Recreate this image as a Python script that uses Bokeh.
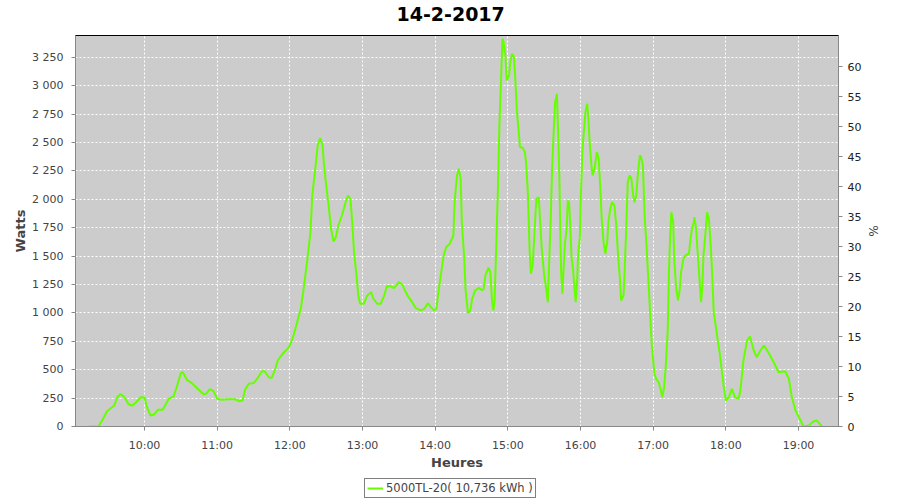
import pandas as pd
from bokeh.plotting import figure
from bokeh.layouts import column
from bokeh.models import (LinearAxis, Range1d, DatetimeTickFormatter, FixedTicker,
                          CustomJSTickFormatter, Legend, LegendItem)
from bokeh.embed import file_html
from bokeh.resources import INLINE

title_text = "14-2-2017"
day = "2017-02-14"
series_label = "5000TL-20( 10,736 kWh )"

times = [
    "09:14:00", "09:22:00", "09:25:00", "09:29:00", "09:35:00", "09:37:30", "09:40:00", "09:43:00",
    "09:47:00", "09:50:00", "09:53:00", "09:57:00", "10:00:00", "10:02:00", "10:05:00", "10:08:00",
    "10:11:00", "10:15:00", "10:17:00", "10:20:00", "10:24:00", "10:27:00", "10:30:00", "10:31:30",
    "10:35:00", "10:39:00", "10:43:00", "10:49:00", "10:51:00", "10:54:00", "10:57:00", "11:00:00",
    "11:04:00", "11:08:00", "11:15:00", "11:18:00", "11:21:00", "11:23:00", "11:26:00", "11:30:00",
    "11:33:00", "11:37:00", "11:39:00", "11:43:00", "11:45:00", "11:48:00", "11:50:00", "11:54:00",
    "11:58:00", "12:00:00", "12:03:00", "12:06:00", "12:09:00", "12:11:00", "12:13:00", "12:14:30",
    "12:17:00", "12:18:30", "12:21:00", "12:23:00", "12:25:00", "12:27:00", "12:28:00", "12:30:00",
    "12:32:00", "12:34:00", "12:36:00", "12:38:00", "12:40:00", "12:43:00", "12:46:00", "12:48:00",
    "12:50:00", "12:51:30", "12:53:00", "12:55:00", "12:56:30", "12:58:00", "13:01:00", "13:04:00",
    "13:07:00", "13:09:00", "13:12:00", "13:15:00", "13:18:00", "13:20:00", "13:23:00", "13:26:00",
    "13:30:00", "13:33:00", "13:35:00", "13:38:00", "13:41:00", "13:44:00", "13:48:00", "13:51:00",
    "13:54:00", "13:56:00", "13:59:00", "14:01:00", "14:03:00", "14:05:00", "14:07:00", "14:09:00",
    "14:12:00", "14:15:00", "14:16:00", "14:18:00", "14:19:30", "14:21:00", "14:22:00", "14:24:00",
    "14:25:00", "14:27:00", "14:29:00", "14:30:30", "14:33:00", "14:36:00", "14:39:00", "14:40:00",
    "14:41:30", "14:44:00", "14:45:30", "14:47:00", "14:48:00", "14:49:00", "14:50:30", "14:52:00",
    "14:53:00", "14:54:30", "14:55:30", "14:56:30", "14:58:00", "14:59:00", "15:01:00", "15:02:00",
    "15:03:30", "15:05:00", "15:06:00", "15:07:30", "15:09:00", "15:10:00", "15:12:30", "15:14:00",
    "15:15:00", "15:16:30", "15:18:00", "15:19:00", "15:20:30", "15:22:00", "15:23:30", "15:25:30",
    "15:27:00", "15:28:00", "15:30:00", "15:32:00", "15:33:00", "15:34:00", "15:35:30", "15:36:30",
    "15:38:00", "15:39:00", "15:40:30", "15:41:30", "15:42:30", "15:43:30", "15:44:00", "15:45:00",
    "15:46:00", "15:47:00", "15:48:30", "15:49:30", "15:50:30", "15:51:30", "15:52:30", "15:54:00",
    "15:55:00", "15:56:00", "15:57:00", "15:58:00", "15:59:30", "16:00:00", "16:01:30", "16:02:30",
    "16:04:00", "16:05:30", "16:06:30", "16:07:30", "16:09:00", "16:10:00", "16:11:30", "16:13:30",
    "16:15:00", "16:16:30", "16:17:30", "16:19:00", "16:20:30", "16:22:00", "16:23:00", "16:24:30",
    "16:26:00", "16:28:00", "16:29:30", "16:31:00", "16:32:30", "16:33:30", "16:35:30", "16:36:30",
    "16:38:00", "16:39:00", "16:40:30", "16:42:00", "16:43:30", "16:44:30", "16:46:00", "16:47:30",
    "16:49:00", "16:50:00", "16:51:30", "16:53:00", "16:54:30", "16:55:30", "16:57:00", "16:58:00",
    "16:59:00", "17:01:00", "17:02:30", "17:04:30", "17:06:00", "17:07:30", "17:09:00", "17:10:30",
    "17:12:00", "17:13:00", "17:14:00", "17:15:00", "17:16:30", "17:17:30", "17:19:00", "17:20:30",
    "17:22:00", "17:23:00", "17:25:00", "17:26:30", "17:29:30", "17:30:30", "17:32:00", "17:33:30",
    "17:34:00", "17:35:30", "17:36:30", "17:38:00", "17:39:30", "17:40:30", "17:41:30", "17:43:00",
    "17:44:30", "17:46:00", "17:47:30", "17:48:30", "17:50:00", "17:51:30", "17:53:00", "17:55:00",
    "17:56:30", "17:58:00", "18:00:00", "18:02:30", "18:05:00", "18:07:30", "18:10:30", "18:12:00",
    "18:14:30", "18:17:30", "18:20:00", "18:23:00", "18:25:30", "18:28:30", "18:31:30", "18:35:00",
    "18:39:30", "18:43:30", "18:49:00", "18:52:00", "18:54:30", "18:57:30", "19:01:00", "19:04:00",
    "19:08:30", "19:12:30", "19:15:00", "19:19:30",
]

watts = [
    0, 0, 53, 135, 185, 258, 285, 264,
    194, 185, 214, 258, 255, 170, 97, 106,
    147, 147, 185, 244, 264, 361, 470, 480,
    411, 382, 341, 282, 290, 329, 311, 244,
    235, 240, 240, 223, 229, 323, 376, 382,
    420, 487, 487, 429, 429, 508, 581, 640,
    684, 713, 800, 919, 1036, 1183, 1350, 1477,
    1711, 2034, 2270, 2475, 2539, 2475, 2328, 2122,
    1946, 1741, 1629, 1667, 1770, 1858, 1975, 2034,
    2005, 1799, 1535, 1330, 1154, 1081, 1081, 1154,
    1183, 1125, 1081, 1081, 1154, 1236, 1236, 1218,
    1271, 1248, 1198, 1139, 1095, 1042, 1022, 1036,
    1086, 1057, 1022, 1036, 1213, 1359, 1506, 1579,
    1609, 1682, 1975, 2211, 2270, 2181, 1799, 1477,
    1213, 1000, 1022, 1125, 1198, 1221, 1198, 1213,
    1330, 1400, 1359, 1095, 1022, 1095, 1623, 2181,
    2651, 3091, 3415, 3385, 3267, 3047, 3091, 3208,
    3282, 3253, 3091, 2768, 2592, 2460, 2452, 2416,
    2328, 2063, 1535, 1345, 1418, 1711, 2005, 2019,
    1741, 1565, 1330, 1183, 1095, 1418, 1858, 2270,
    2636, 2856, 2930, 2592, 2211, 1594, 1359, 1169,
    1389, 1594, 1741, 1990, 1975, 1770, 1506, 1359,
    1213, 1095, 1242, 1506, 1682, 1946, 2416, 2563,
    2768, 2842, 2710, 2504, 2299, 2211, 2270, 2416,
    2357, 2063, 1829, 1623, 1521, 1623, 1799, 1917,
    1975, 1946, 1770, 1506, 1301, 1110, 1154, 1389,
    1829, 2152, 2211, 2181, 2034, 1975, 2034, 2240,
    2387, 2372, 2299, 1829, 1594, 1389, 1095, 875,
    698, 464, 420, 390, 332, 258, 346, 552,
    845, 1359, 1682, 1887, 1799, 1447, 1213, 1110,
    1213, 1359, 1477, 1506, 1521, 1623, 1741, 1799,
    1843, 1741, 1565, 1330, 1095, 1213, 1506, 1682,
    1887, 1829, 1594, 1389, 1000, 900, 780, 640,
    500, 370, 229, 258, 332, 258, 244, 317,
    581, 757, 793, 669, 610, 669, 713, 654,
    566, 478, 487, 420, 258, 141, 68, 0,
    9, 47, 53, 0,
]

x_ticks_labels = ["10:00", "11:00", "12:00", "13:00", "14:00", "15:00", "16:00", "17:00", "18:00", "19:00"]
watt_ticks = [0, 250, 500, 750, 1000, 1250, 1500, 1750, 2000, 2250, 2500, 2750, 3000, 3250]
pct_ticks = [0, 5, 10, 15, 20, 25, 30, 35, 40, 45, 50, 55, 60]
x_start, x_end = "09:03:00", "19:33:00"
watt_max = 3443
pct_max = 65.2

x = pd.to_datetime([f"{day} {t}" for t in times])
xt = [pd.Timestamp(f"{day} {h}").value // 10**6 for h in x_ticks_labels]

FONT = "DejaVu Sans"
GREY = "#444444"
GREEN = "#66FF00"

# title strip
tf = figure(width=900, height=35, x_axis_location=None, y_axis_location=None,
            toolbar_location=None, output_backend="svg", min_border=0,
            outline_line_color=None, title=title_text)
tf.xgrid.visible = False
tf.ygrid.visible = False
tf.title.align = "left"
tf.title.offset = 321
tf.title.vertical_align = "top"
tf.title.standoff = 12
tf.title.text_font = FONT
tf.title.text_font_size = "19px"
tf.title.text_font_style = "bold"
tf.title.text_color = "black"

# main chart
p = figure(width=900, height=437, x_axis_type="datetime",
           x_range=Range1d(pd.Timestamp(f"{day} {x_start}"), pd.Timestamp(f"{day} {x_end}")),
           y_range=Range1d(0, watt_max),
           output_backend="svg", toolbar_location=None,
           min_border_left=75, min_border_right=62, min_border_top=0, min_border_bottom=46)

p.background_fill_color = "#CCCCCC"
p.border_fill_color = "white"
p.outline_line_color = "black"
p.outline_line_width = 1

p.extra_y_ranges = {"pct": Range1d(0, pct_max)}
right = LinearAxis(y_range_name="pct", axis_label="%", ticker=FixedTicker(ticks=pct_ticks))
p.add_layout(right, "right")

p.xaxis.ticker = FixedTicker(ticks=xt)
p.xaxis.formatter = DatetimeTickFormatter(hours="%H:%M", minutes="%H:%M", hourmin="%H:%M",
                                          days="%H:%M", minsec="%H:%M", seconds="%H:%M")
p.xaxis.axis_label = "Heures"
p.yaxis[0].axis_label = "Watts"
p.yaxis[0].ticker = FixedTicker(ticks=watt_ticks)
p.yaxis[0].formatter = CustomJSTickFormatter(code="""
    if (tick >= 1000) {
        const th = Math.floor(tick / 1000);
        const r = String(tick % 1000).padStart(3, '0');
        return th + '\u00a0' + r;
    }
    return String(tick);
""")

for ax in p.xaxis + p.yaxis:
    ax.axis_line_color = "#888888"
    ax.major_tick_line_color = "#888888"
    ax.major_tick_out = 4
    ax.major_tick_in = 0
    ax.minor_tick_line_color = None
    ax.major_label_text_font = FONT
    ax.major_label_text_font_size = "11px"
    ax.major_label_text_color = GREY
    ax.axis_label_text_font = FONT
    ax.axis_label_text_font_size = "13px"
    ax.axis_label_text_font_style = "bold"
    ax.axis_label_text_color = GREY

p.yaxis[0].major_label_standoff = 8
p.yaxis[0].axis_label_standoff = 1
p.xaxis.major_label_standoff = 8
p.xaxis.axis_label_standoff = 0
right.major_label_standoff = 5
right.axis_label_standoff = 2
right.axis_label_text_font_style = "normal"
right.axis_label_text_font_size = "12px"
right.major_label_text_color = "#222222"

p.xgrid.ticker = FixedTicker(ticks=xt)
p.ygrid.ticker = FixedTicker(ticks=watt_ticks)
for g in (p.xgrid, p.ygrid):
    g.grid_line_color = "white"
    g.grid_line_dash = "2 2"
    g.grid_line_width = 1

r = p.line(x, watts, line_color=GREEN, line_width=2)

# legend strip below the chart
lf = figure(width=900, height=28, x_axis_location=None, y_axis_location=None,
            toolbar_location=None, output_backend="svg", min_border=0,
            outline_line_color=None)
lf.xgrid.visible = False
lf.ygrid.visible = False
lr = lf.line(x, watts, line_color=GREEN, line_width=2, visible=False)

legend = Legend(items=[LegendItem(label=series_label, renderers=[lr])],
                orientation="horizontal", location=(289, 2),
                border_line_color="black", border_line_width=1,
                background_fill_color="white", background_fill_alpha=1,
                label_text_font=FONT, label_text_font_size="11.5px", label_text_color=GREY,
                glyph_width=16, glyph_height=14, label_standoff=3, padding=2, spacing=0,
                margin=0, label_height=14)
lf.add_layout(legend)

layout = column(tf, p, lf, spacing=0)
open("out.html", "w").write(file_html(layout, INLINE))
